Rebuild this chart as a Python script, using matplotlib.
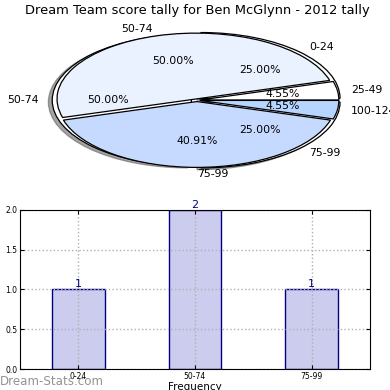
import matplotlib
matplotlib.use('Agg')
import matplotlib.pyplot as plt
import numpy as np

# pie data (two tallies drawn on the same axes)
pie1_labels = ['0-24', '50-74', '75-99']
pie1_values = [1, 2, 1]
pie2_labels = ['25-49', '50-74', '75-99', '100-124']
pie2_values = [1, 11, 9, 1]

# bar data
bar_labels = ['0-24', '50-74', '75-99']
bar_counts = [1, 2, 1]

pie1_colors = ['#ffffff', '#ffffff', '#ffffff']
pie2_colors = ['#ffffff', '#eaf1ff', '#c6d9ff', '#b7d6ff']

fig = plt.figure(figsize=(3.9, 3.9), dpi=100)

# --- pie ---
ax1 = fig.add_axes([0.059, 0.537, 0.892, 0.412])
w1, t1, a1 = ax1.pie(pie1_values, labels=pie1_labels, colors=pie1_colors,
                     autopct='%1.2f%%', explode=[0.04] * 3, shadow=True,
                     wedgeprops=dict(edgecolor='black', linewidth=0.9),
                     textprops=dict(fontsize=7.8))
w2, t2, a2 = ax1.pie(pie2_values, labels=pie2_labels, colors=pie2_colors,
                     autopct='%1.2f%%', explode=[0.02] * 4, shadow=False,
                     wedgeprops=dict(edgecolor='black', linewidth=0.9),
                     textprops=dict(fontsize=7.8))
ax1.set_aspect('auto')
ax1.set_xlim(-1.25, 1.25)
ax1.set_ylim(-1.22, 1.22)
ax1.set_title('Dream Team score tally for Ben McGlynn - 2012 tally', fontsize=9.4, pad=4)

# --- bars ---
ax2 = fig.add_axes([0.0513, 0.0538, 0.897, 0.408])
x = np.arange(len(bar_labels))
bars = ax2.bar(x, bar_counts, width=0.45, color='#ccccee', edgecolor='#000080', linewidth=1, zorder=2)
for xi, c in zip(x, bar_counts):
    ax2.text(xi, c, str(c), ha='center', va='bottom', fontsize=8, color='#000080')
ax2.set_xlim(-0.5, 2.5)
ax2.set_ylim(0, 2)
ax2.set_xticks(x)
ax2.set_xticklabels(bar_labels)
ax2.set_yticks([0, 0.5, 1.0, 1.5, 2.0])
ax2.set_yticklabels(['0.0', '0.5', '1.0', '1.5', '2.0'])
ax2.tick_params(labelsize=5.5, direction='in', top=True, right=True, length=3, pad=2,
                colors='#000000')
ax2.grid(True, linestyle=':', color='#b0b0b0', linewidth=1.0, zorder=2.2)
ax2.set_axisbelow(False)
for s in ax2.spines.values():
    s.set_zorder(3)
ax2.set_xlabel('Frequency', fontsize=7.5, labelpad=1)

fig.text(0.0, 0.012, 'Dream-Stats.com', fontsize=8.6, color='#888888', alpha=0.9)

fig.savefig('out.png', dpi=100)
